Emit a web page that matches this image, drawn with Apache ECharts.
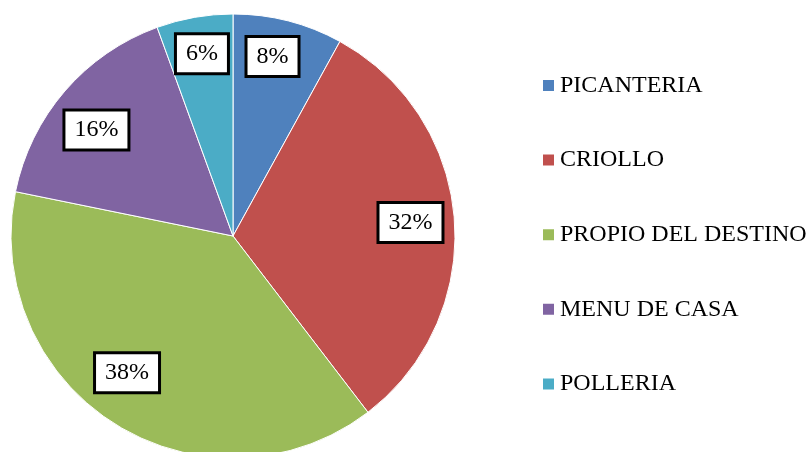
<!DOCTYPE html>
<html>
<head>
<meta charset="utf-8">
<script src="https://cdn.jsdelivr.net/npm/echarts@6/dist/echarts.min.js"></script>
<style>
  html, body { margin: 0; padding: 0; background: #fff; }
  #chart { width: 808px; height: 452px; }
</style>
</head>
<body>
<div id="chart"></div>
<script>
const categories = ['PICANTERIA', 'CRIOLLO', 'PROPIO DEL DESTINO', 'MENU DE CASA', 'POLLERIA'];
const shares = [8.0, 31.6, 38.6, 16.25, 5.55];
const percentLabels = ['8%', '32%', '38%', '16%', '6%'];
const colors = ['#4F81BD', '#C0504D', '#9BBB59', '#8064A2', '#4BACC6'];

// small nudges so the boxes sit where the original placed them
const labelNudge = [[-5, -6], [-1, 0], [-11, -15], [-1, 11], [0, -6]];

const myChart = echarts.init(document.getElementById('chart'));

const option = {
  animation: false,
  color: colors,
  legend: {
    orient: 'vertical',
    left: 536,
    top: 68.5,
    itemWidth: 13,
    itemHeight: 13,
    itemGap: 50.6,
    icon: 'rect',
    selectedMode: false,
    data: categories,
    textStyle: {
      fontFamily: 'Liberation Serif',
      fontSize: 24,
      lineHeight: 24,
      color: '#000'
    }
  },
  series: [
    {
      name: 'Tipo',
      type: 'pie',
      center: [233, 236],
      radius: [0, 222],
      startAngle: 90,
      silent: true,
      itemStyle: {
        borderColor: '#fff',
        borderWidth: 1
      },
      label: { show: false },
      labelLine: { show: false },
      data: categories.map((name, i) => ({
        name: name,
        value: shares[i],
        itemStyle: { color: colors[i] }
      }))
    },
    {
      // transparent ring, only used to place the labels near the outer edge
      name: 'labels',
      type: 'pie',
      center: [233, 236],
      radius: [130, 222],
      startAngle: 90,
      silent: true,
      itemStyle: { color: 'rgba(0,0,0,0)' },
      label: {
        show: true,
        position: 'inside',
        formatter: (p) => percentLabels[p.dataIndex],
        fontFamily: 'Liberation Serif',
        fontSize: 24,
        lineHeight: 25,
        color: '#000',
        backgroundColor: '#fff',
        borderColor: '#000',
        borderWidth: 3,
        padding: [6, 9, 6, 9]
      },
      labelLayout: function (params) {
        const n = labelNudge[params.dataIndex] || [0, 0];
        return { dx: n[0], dy: n[1] };
      },
      labelLine: { show: false },
      data: categories.map((name, i) => ({ name: name, value: shares[i] }))
    }
  ]
};

myChart.setOption(option);
</script>
</body>
</html>
